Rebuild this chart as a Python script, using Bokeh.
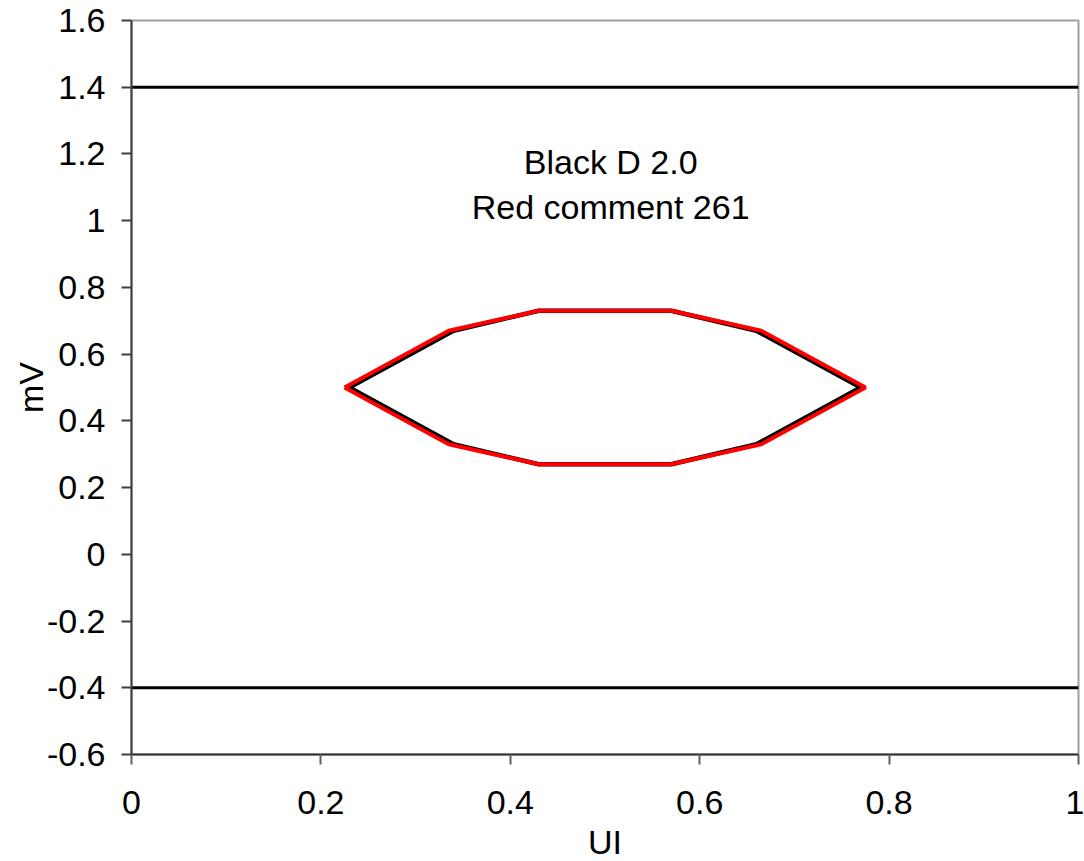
from bokeh.plotting import figure
from bokeh.models import FixedTicker, CustomJSTickFormatter, Range1d
from bokeh.core.properties import value
from bokeh.embed import file_html
from bokeh.resources import INLINE

# ---- data ----
black_x = [0.23, 0.34, 0.43, 0.57, 0.66, 0.77, 0.66, 0.57, 0.43, 0.34, 0.23]
black_y = [0.50, 0.67, 0.73, 0.73, 0.67, 0.50, 0.33, 0.27, 0.27, 0.33, 0.50]
red_x = [0.225, 0.335, 0.43, 0.57, 0.665, 0.775, 0.665, 0.57, 0.43, 0.335, 0.225]
red_y = [0.50, 0.67, 0.73, 0.73, 0.67, 0.50, 0.33, 0.27, 0.27, 0.33, 0.50]
limit_x = [0.0, 1.0]
upper_limit = [1.4, 1.4]
lower_limit = [-0.4, -0.4]
x_ticks = [0.0, 0.2, 0.4, 0.6, 0.8, 1.0]
y_ticks = [-0.6, -0.4, -0.2, 0.0, 0.2, 0.4, 0.6, 0.8, 1.0, 1.2, 1.4, 1.6]
note_lines = ["Black D 2.0", "Red comment 261"]
note_y = [1.177, 1.042]
note_x = 0.506
x_title = "UI"
y_title = "mV"

FONT = "Liberation Sans"
FS = "34px"

p = figure(
    frame_width=947, frame_height=734,
    min_border_left=131, min_border_top=20, min_border_right=6, min_border_bottom=106,
    x_range=Range1d(0, 1), y_range=Range1d(-0.6, 1.6),
    output_backend="svg", toolbar_location=None,
    background_fill_color="white", border_fill_color="white",
)
p.xgrid.visible = False
p.ygrid.visible = False
p.outline_line_color = "#a0a0a0"
p.outline_line_width = 2

fmt = CustomJSTickFormatter(code="return (Math.round(tick*10)/10).toString();")
for ax, ticks in ((p.xaxis[0], x_ticks), (p.yaxis[0], y_ticks)):
    ax.ticker = FixedTicker(ticks=ticks)
    ax.formatter = fmt
    ax.major_tick_in = 0
    ax.major_tick_out = 10
    ax.minor_tick_out = 0
    ax.minor_tick_in = 0
    ax.major_label_text_font = FONT
    ax.major_label_text_font_size = FS
    ax.major_label_text_color = "black"
    ax.axis_label_text_font = FONT
    ax.axis_label_text_font_size = FS
    ax.axis_label_text_font_style = "normal"
    ax.axis_label_text_color = "black"
    ax.axis_line_width = 2
    ax.major_tick_line_width = 2
p.xaxis[0].axis_label = x_title
p.yaxis[0].axis_label = y_title
p.xaxis[0].axis_line_color = "#303030"
p.yaxis[0].axis_line_color = "#404040"
p.xaxis[0].major_tick_line_color = "#606060"
p.yaxis[0].major_tick_line_color = "#404040"
p.yaxis[0].major_label_standoff = 16
p.xaxis[0].major_label_standoff = 26
p.xaxis[0].axis_label_standoff = 6
p.yaxis[0].axis_label_standoff = -6

# limit lines
p.line(limit_x, upper_limit, line_color="black", line_width=3)
p.line(limit_x, lower_limit, line_color="black", line_width=3)

# masks
p.line(black_x, black_y, line_color="black", line_width=4.5)
p.line(red_x, red_y, line_color="#ff0000", line_width=4)

# annotation text
p.text(x=[note_x, note_x], y=note_y, text=note_lines,
       text_font=value(FONT), text_font_size=FS, text_align="center",
       text_baseline="middle", text_color="black")

open("out.html", "w").write(file_html(p, INLINE))
